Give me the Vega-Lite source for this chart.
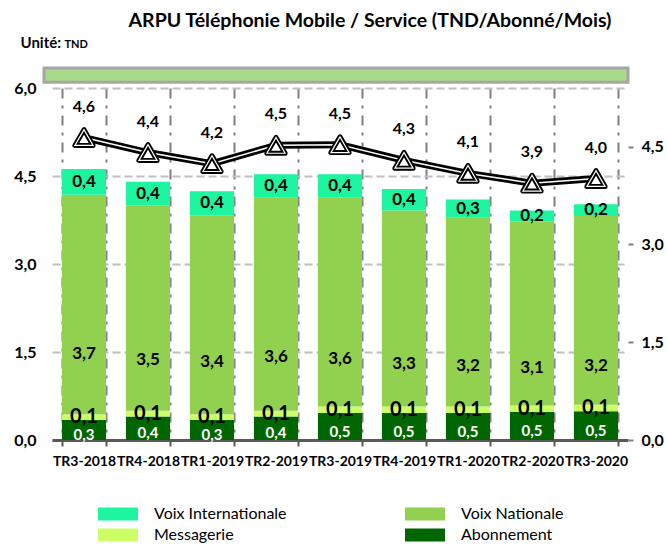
{
  "$schema": "https://vega.github.io/schema/vega-lite/v6.json",
  "width": 576,
  "height": 352,
  "autosize": {"type": "none"},
  "padding": {"left": 52, "top": 88, "right": 39, "bottom": 108},
  "config": {
    "font": "Lato",
    "view": {"stroke": null},
    "locale": {"number": {"decimal": ",", "thousands": " ", "grouping": [3], "currency": ["", ""]}},
    "axis": {"labelColor": "#000000", "titleColor": "#000000", "labelFont": "Lato", "titleFont": "Lato"}
  },
  "title": {
    "text": "ARPU Téléphonie Mobile / Service (TND/Abonné/Mois)",
    "fontSize": 19.5,
    "fontWeight": "bold",
    "color": "#000000",
    "anchor": "middle",
    "dx": 30,
    "offset": 4
  },
  "datasets": {
    "segments": [
      {"period": "TR3-2018", "serie": "Abonnement", "value": 0.34},
      {"period": "TR3-2018", "serie": "Messagerie", "value": 0.10},
      {"period": "TR3-2018", "serie": "Voix Nationale", "value": 3.74},
      {"period": "TR3-2018", "serie": "Voix Internationale", "value": 0.44},
      {"period": "TR4-2018", "serie": "Abonnement", "value": 0.40},
      {"period": "TR4-2018", "serie": "Messagerie", "value": 0.10},
      {"period": "TR4-2018", "serie": "Voix Nationale", "value": 3.50},
      {"period": "TR4-2018", "serie": "Voix Internationale", "value": 0.40},
      {"period": "TR1-2019", "serie": "Abonnement", "value": 0.34},
      {"period": "TR1-2019", "serie": "Messagerie", "value": 0.10},
      {"period": "TR1-2019", "serie": "Voix Nationale", "value": 3.39},
      {"period": "TR1-2019", "serie": "Voix Internationale", "value": 0.41},
      {"period": "TR2-2019", "serie": "Abonnement", "value": 0.40},
      {"period": "TR2-2019", "serie": "Messagerie", "value": 0.10},
      {"period": "TR2-2019", "serie": "Voix Nationale", "value": 3.63},
      {"period": "TR2-2019", "serie": "Voix Internationale", "value": 0.40},
      {"period": "TR3-2019", "serie": "Abonnement", "value": 0.46},
      {"period": "TR3-2019", "serie": "Messagerie", "value": 0.11},
      {"period": "TR3-2019", "serie": "Voix Nationale", "value": 3.56},
      {"period": "TR3-2019", "serie": "Voix Internationale", "value": 0.40},
      {"period": "TR4-2019", "serie": "Abonnement", "value": 0.46},
      {"period": "TR4-2019", "serie": "Messagerie", "value": 0.11},
      {"period": "TR4-2019", "serie": "Voix Nationale", "value": 3.34},
      {"period": "TR4-2019", "serie": "Voix Internationale", "value": 0.37},
      {"period": "TR1-2020", "serie": "Abonnement", "value": 0.46},
      {"period": "TR1-2020", "serie": "Messagerie", "value": 0.11},
      {"period": "TR1-2020", "serie": "Voix Nationale", "value": 3.22},
      {"period": "TR1-2020", "serie": "Voix Internationale", "value": 0.31},
      {"period": "TR2-2020", "serie": "Abonnement", "value": 0.48},
      {"period": "TR2-2020", "serie": "Messagerie", "value": 0.11},
      {"period": "TR2-2020", "serie": "Voix Nationale", "value": 3.14},
      {"period": "TR2-2020", "serie": "Voix Internationale", "value": 0.18},
      {"period": "TR3-2020", "serie": "Abonnement", "value": 0.49},
      {"period": "TR3-2020", "serie": "Messagerie", "value": 0.11},
      {"period": "TR3-2020", "serie": "Voix Nationale", "value": 3.22},
      {"period": "TR3-2020", "serie": "Voix Internationale", "value": 0.20}
    ],
    "arpu": [
      {"period": "TR3-2018", "arpu": 4.64},
      {"period": "TR4-2018", "arpu": 4.41},
      {"period": "TR1-2019", "arpu": 4.24},
      {"period": "TR2-2019", "arpu": 4.52},
      {"period": "TR3-2019", "arpu": 4.53},
      {"period": "TR4-2019", "arpu": 4.29},
      {"period": "TR1-2020", "arpu": 4.09},
      {"period": "TR2-2020", "arpu": 3.94},
      {"period": "TR3-2020", "arpu": 4.01}
    ]
  },
  "encoding": {
    "x": {
      "field": "period",
      "type": "nominal",
      "sort": ["TR3-2018", "TR4-2018", "TR1-2019", "TR2-2019", "TR3-2019", "TR4-2019", "TR1-2020", "TR2-2020", "TR3-2020"],
      "scale": {"paddingInner": 0.31, "paddingOuter": 0.155},
      "axis": {
        "title": "TND",
        "titleAngle": 0,
        "titleAlign": "left",
        "titleBaseline": "alphabetic",
        "titleX": 12,
        "titleY": -393,
        "titleFontSize": 11,
        "titleFontWeight": "bold",
        "tickBand": "extent",
        "grid": true,
        "gridDash": [10, 7, 3, 7],
        "gridColor": "#808080",
        "gridWidth": 2,
        "domainColor": "#595959",
        "domainWidth": 3,
        "ticks": true,
        "tickColor": "#595959",
        "tickWidth": 2,
        "tickSize": 6,
        "labelPadding": 8,
        "labelAngle": 0,
        "labelFontSize": 14,
        "labelFontWeight": "bold"
      }
    }
  },
  "layer": [
    {
      "layer": [
        {
          "data": {"name": "segments"},
          "transform": [
            {"calculate": "indexof(['Abonnement','Messagerie','Voix Nationale','Voix Internationale'], datum.serie)", "as": "ord"},
            {"stack": "value", "groupby": ["period"], "sort": [{"field": "ord", "order": "ascending"}], "as": ["v0", "v1"]}
          ],
          "mark": {"type": "bar"},
          "encoding": {
            "y": {
              "field": "v1",
              "type": "quantitative",
              "scale": {"domain": [0, 6], "nice": false},
              "axis": {
                "orient": "left",
                "values": [0, 1.5, 3, 4.5, 6],
                "format": ".1f",
                "grid": true,
                "gridDash": [8, 4],
                "gridColor": "#bfbfbf",
                "gridWidth": 2,
                "domain": false,
                "ticks": false,
                "labelPadding": 16,
                "labelFontSize": 16,
                "labelFontWeight": "bold",
                "title": "Unité:",
                "titleAngle": 0,
                "titleAlign": "left",
                "titleBaseline": "alphabetic",
                "titleX": -32,
                "titleY": -41,
                "titleFontSize": 15,
                "titleFontWeight": "bold"
              }
            },
            "y2": {"field": "v0"},
            "color": {
              "field": "serie",
              "type": "nominal",
              "scale": {
                "domain": ["Voix Internationale", "Messagerie", "Voix Nationale", "Abonnement"],
                "range": ["#1df5a0", "#ccff66", "#92d050", "#006600"]
              },
              "legend": {
                "title": null,
                "orient": "none",
                "legendX": 56,
                "legendY": 416,
                "columns": 2,
                "symbolType": "M-2,-0.65H2V0.65H-2Z",
                "symbolSize": 400,
                "symbolStrokeWidth": 0,
                "labelFontSize": 16,
                "labelColor": "#000000",
                "labelOffset": 26,
                "columnPadding": 118,
                "rowPadding": 3,
                "padding": 0
              }
            }
          }
        },
        {
          "data": {"values": [{}]},
          "mark": {"type": "rect", "fill": "#a9d98a", "stroke": "#a6a6a6", "strokeWidth": 3},
          "encoding": {
            "x": {"value": -8},
            "x2": {"value": "width"},
            "y": {"datum": 6.1, "type": "quantitative"},
            "y2": {"datum": 6.34}
          }
        },
        {
          "data": {"name": "segments"},
          "transform": [
            {"calculate": "indexof(['Abonnement','Messagerie','Voix Nationale','Voix Internationale'], datum.serie)", "as": "ord"},
            {"stack": "value", "groupby": ["period"], "sort": [{"field": "ord", "order": "ascending"}], "as": ["v0", "v1"]},
            {"filter": "datum.serie === 'Voix Internationale'"},
            {"calculate": "(datum.v0 + datum.v1) / 2", "as": "mid"}
          ],
          "mark": {"type": "text", "fontSize": 17, "fontWeight": "bold", "color": "#000000", "baseline": "middle"},
          "encoding": {
            "y": {"field": "mid", "type": "quantitative"},
            "text": {"field": "value", "type": "quantitative", "format": ".1f"}
          }
        },
        {
          "data": {"name": "segments"},
          "transform": [
            {"filter": "datum.serie === 'Voix Nationale'"},
            {"calculate": "datum.value * 0.39", "as": "lab"}
          ],
          "mark": {"type": "text", "fontSize": 17, "fontWeight": "bold", "color": "#000000", "baseline": "middle"},
          "encoding": {
            "y": {"field": "lab", "type": "quantitative"},
            "text": {"field": "value", "type": "quantitative", "format": ".1f"}
          }
        },
        {
          "data": {"name": "segments"},
          "transform": [
            {"calculate": "indexof(['Abonnement','Messagerie','Voix Nationale','Voix Internationale'], datum.serie)", "as": "ord"},
            {"stack": "value", "groupby": ["period"], "sort": [{"field": "ord", "order": "ascending"}], "as": ["v0", "v1"]},
            {"filter": "datum.serie === 'Abonnement'"},
            {"calculate": "(datum.v0 + datum.v1) / 2", "as": "mid"}
          ],
          "mark": {"type": "text", "fontSize": 15, "fontWeight": "bold", "color": "#ffffff", "baseline": "middle", "dy": 5},
          "encoding": {
            "y": {"field": "mid", "type": "quantitative"},
            "text": {"field": "value", "type": "quantitative", "format": ".1f"}
          }
        },
        {
          "data": {"name": "segments"},
          "transform": [
            {"calculate": "indexof(['Abonnement','Messagerie','Voix Nationale','Voix Internationale'], datum.serie)", "as": "ord"},
            {"stack": "value", "groupby": ["period"], "sort": [{"field": "ord", "order": "ascending"}], "as": ["v0", "v1"]},
            {"filter": "datum.serie === 'Messagerie'"},
            {"calculate": "(datum.v0 + datum.v1) / 2", "as": "mid"}
          ],
          "mark": {"type": "text", "fontSize": 20, "fontWeight": "bold", "color": "#000000", "baseline": "middle", "dy": 0},
          "encoding": {
            "y": {"field": "mid", "type": "quantitative"},
            "text": {"field": "value", "type": "quantitative", "format": ".1f"}
          }
        }
      ]
    },
    {
      "data": {"name": "arpu"},
      "encoding": {
        "y": {
          "field": "arpu",
          "type": "quantitative",
          "scale": {"domain": [0, 5.4], "nice": false},
          "axis": {
            "orient": "right",
            "values": [0, 1.5, 3, 4.5],
            "format": ".1f",
            "grid": false,
            "domain": false,
            "ticks": true,
            "tickColor": "#808080",
            "tickWidth": 2,
            "tickSize": 5,
            "labelPadding": 8,
            "labelFontSize": 16,
            "labelFontWeight": "bold",
            "title": null
          }
        }
      },
      "layer": [
        {"mark": {"type": "line", "color": "#000000", "strokeWidth": 7, "strokeJoin": "round"}},
        {"mark": {"type": "line", "color": "#ffffff", "strokeWidth": 1.5}},
        {"mark": {"type": "point", "shape": "triangle-up", "size": 330, "filled": true, "fill": "#ffffff", "stroke": "#000000", "strokeWidth": 5, "strokeJoin": "round", "opacity": 1}},
        {"mark": {"type": "point", "shape": "triangle-up", "size": 330, "filled": false, "fill": null, "stroke": "#ffffff", "strokeWidth": 1.2, "opacity": 1}},
        {
          "mark": {"type": "text", "fontSize": 16, "fontWeight": "bold", "color": "#000000", "baseline": "middle", "dy": -31},
          "encoding": {"text": {"field": "arpu", "type": "quantitative", "format": ".1f"}}
        }
      ]
    }
  ],
  "resolve": {"scale": {"y": "independent"}, "axis": {"y": "independent"}}
}
